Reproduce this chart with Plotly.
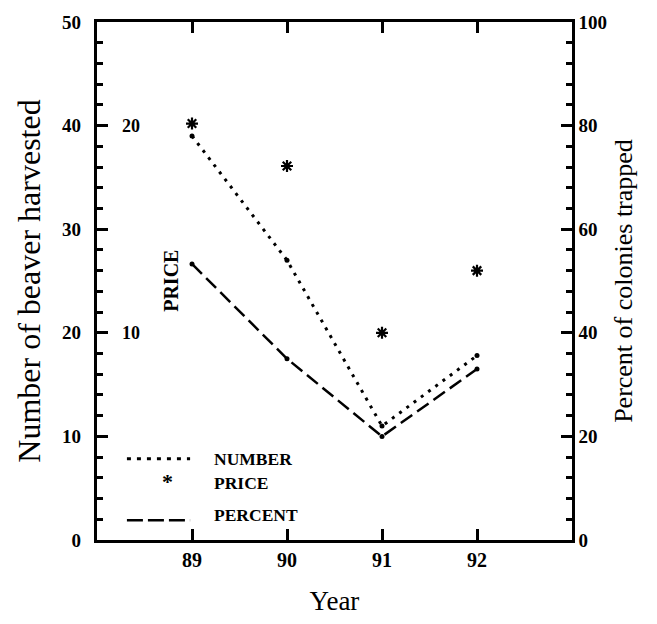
import plotly.graph_objects as go

# ---- data ----
years = [89, 90, 91, 92]
number_harvested = [39.0, 27.0, 11.0, 17.8]      # left axis
price = [20.1, 18.05, 10.0, 13.0]                # inner price axis
percent_trapped = [53.3, 35.0, 20.0, 33.0]       # right axis

x_ticks = [89, 90, 91, 92]
x_ticklabels = ["89", "90", "91", "92"]
price_ticks = [10, 20]
price_ticklabels = ["10", "20"]

FONT = "Liberation Serif"
BLACK = "black"

fig = go.Figure()

fig.add_trace(go.Scatter(
    x=years, y=number_harvested, name="NUMBER", mode="lines+markers",
    line=dict(color=BLACK, width=3, dash="3px,6px"),
    marker=dict(size=5, color=BLACK),
    yaxis="y", showlegend=False))

fig.add_trace(go.Scatter(
    x=years, y=percent_trapped, name="PERCENT", mode="lines+markers",
    line=dict(color=BLACK, width=2.5, dash="14px,6px"),
    marker=dict(size=5, color=BLACK),
    yaxis="y2", showlegend=False))

fig.add_trace(go.Scatter(
    x=years, y=price, name="PRICE", mode="markers",
    marker=dict(symbol="asterisk-open", size=10, color=BLACK,
                line=dict(color=BLACK, width=2.2)),
    yaxis="y3", showlegend=False))

tickfont = dict(family=FONT, size=19, color=BLACK, weight="bold")

fig.update_layout(
    width=657, height=624,
    margin=dict(l=97, r=85, t=18, b=83),
    paper_bgcolor="white", plot_bgcolor="white",
    showlegend=False,
    font=dict(family=FONT, color=BLACK),
    xaxis=dict(
        range=[88, 93], tickmode="array", tickvals=x_ticks, ticktext=x_ticklabels,
        ticks="inside", ticklen=11, tickwidth=3, tickcolor=BLACK,
        showline=True, linewidth=2.5, linecolor=BLACK, mirror="ticks",
        showgrid=False, zeroline=False, layer="above traces",
        tickfont=dict(family=FONT, size=20, color=BLACK, weight="bold"),
        title=dict(text="Year", font=dict(family=FONT, size=27, color=BLACK), standoff=22),
    ),
    yaxis=dict(
        range=[0, 50], tickmode="linear", tick0=0, dtick=10,
        ticks="inside", ticklen=11, tickwidth=3, tickcolor=BLACK,
        minor=dict(dtick=2, ticks="inside", ticklen=6, tickwidth=2.5, tickcolor=BLACK),
        showline=True, linewidth=2.5, linecolor=BLACK, layer="above traces",
        showgrid=False, zeroline=False,
        tickfont=tickfont, ticksuffix="  ",
        title=dict(text="Number of beaver harvested",
                   font=dict(family=FONT, size=32, color=BLACK), standoff=12),
    ),
    yaxis2=dict(
        range=[0, 100], tickmode="linear", tick0=0, dtick=20,
        overlaying="y", side="right", anchor="x",
        ticks="inside", ticklen=11, tickwidth=3, tickcolor=BLACK,
        minor=dict(dtick=4, ticks="inside", ticklen=6, tickwidth=2.5, tickcolor=BLACK),
        showline=True, linewidth=2.5, linecolor=BLACK, layer="above traces",
        showgrid=False, zeroline=False,
        tickfont=tickfont,
        title=dict(text="Percent of colonies trapped",
                   font=dict(family=FONT, size=26, color=BLACK), standoff=8),
    ),
    yaxis3=dict(
        range=[0, 25], overlaying="y", side="left", anchor="x",
        visible=False, showgrid=False, zeroline=False,
    ),
)

# inner PRICE scale labels, placed on the price axis
for val, lab in zip(price_ticks, price_ticklabels):
    fig.add_annotation(text="<b>" + lab + "</b>", xref="paper", yref="y3",
                       x=0.048, y=val, xanchor="left", yanchor="middle",
                       showarrow=False, font=dict(family=FONT, size=18, color=BLACK))

# "PRICE" label of inner axis
fig.add_annotation(text="<b>PRICE</b>", textangle=-90, xref="paper", yref="paper",
                   x=0.128, y=0.50, showarrow=False,
                   font=dict(family=FONT, size=20, color=BLACK))

# ---- hand-drawn legend inside the plot ----
leg_x0, leg_x1, leg_tx = 0.063, 0.196, 0.242
fig.add_shape(type="line", xref="paper", yref="paper", x0=leg_x0, x1=leg_x1,
              y0=0.157, y1=0.157, line=dict(color=BLACK, width=3, dash="4px,6px"))
fig.add_shape(type="line", xref="paper", yref="paper", x0=leg_x0, x1=leg_x1,
              y0=0.038, y1=0.038, line=dict(color=BLACK, width=2.5, dash="16px,5px"))
fig.add_annotation(text="<b>*</b>", xref="paper", yref="paper", x=0.133, y=0.085,
                   showarrow=False, font=dict(family=FONT, size=22, color=BLACK))
for label, yy in [("NUMBER", 0.157), ("PRICE", 0.111), ("PERCENT", 0.048)]:
    fig.add_annotation(text="<b>" + label + "</b>", xref="paper", yref="paper",
                       x=leg_tx, y=yy, xanchor="left", yanchor="middle",
                       showarrow=False, font=dict(family=FONT, size=17.5, color=BLACK))

fig.write_html("out.html")
